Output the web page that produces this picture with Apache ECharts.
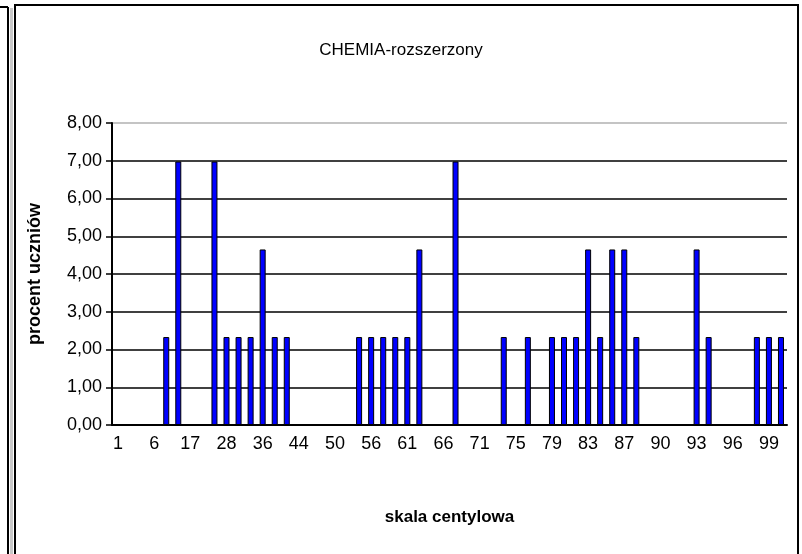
<!DOCTYPE html>
<html>
<head>
<meta charset="utf-8">
<script src="https://cdn.jsdelivr.net/npm/echarts@6/dist/echarts.min.js"></script>
<style>
    html, body { margin: 0; padding: 0; background: #fff; }
    #chart { width: 802px; height: 554px; }
</style>
</head>
<body>
<div id="chart"></div>
<script>
    // percentyle (kategorie osi X) - co trzecia jest podpisana
    const categories = [
        '1', '2', '4', '6', '9', '13', '17', '21', '25', '28',
        '31', '33', '36', '39', '42', '44', '46', '48', '50', '52',
        '54', '56', '57', '59', '61', '63', '64', '66', '68', '70',
        '71', '72', '74', '75', '76', '78', '79', '80', '82', '83',
        '84', '86', '87', '88', '89', '90', '91', '92', '93', '94',
        '95', '96', '97', '98', '99', '100'
    ];
    // procent uczniów
    const values = [
        0, 0, 0, 0, 2.33, 6.98, 0, 0, 6.98, 2.33,
        2.33, 2.33, 4.65, 2.33, 2.33, 0, 0, 0, 0, 0,
        2.33, 2.33, 2.33, 2.33, 2.33, 4.65, 0, 0, 6.98, 0,
        0, 0, 2.33, 0, 2.33, 0, 2.33, 2.33, 2.33, 4.65,
        2.33, 4.65, 4.65, 2.33, 0, 0, 0, 0, 4.65, 2.33,
        0, 0, 0, 2.33, 2.33, 2.33
    ];
    const yTicks = [0, 1, 2, 3, 4, 5, 6, 7, 8];

    const font = '"Liberation Sans", Arial, sans-serif';
    const chart = echarts.init(document.getElementById('chart'));

    chart.setOption({
        backgroundColor: '#FFFFFF',
        animation: false,
        title: {
            text: 'CHEMIA-rozszerzony',
            left: 'center',
            top: 37,
            textStyle: {
                fontFamily: font,
                fontSize: 17,
                fontWeight: 'normal',
                color: '#000'
            }
        },
        grid: {
            left: 112,
            right: 15,
            top: 123,
            bottom: 129
        },
        xAxis: {
            type: 'category',
            data: categories,
            name: 'skala centylowa',
            nameLocation: 'middle',
            nameGap: 84,
            nameTextStyle: {
                fontFamily: font,
                fontSize: 17,
                fontWeight: 'bold',
                color: '#000'
            },
            axisLine: { lineStyle: { color: '#000', width: 2 } },
            axisTick: {
                interval: 0,
                length: 5,
                lineStyle: { color: '#000', width: 1.5 }
            },
            axisLabel: {
                interval: 2,
                margin: 10,
                fontFamily: font,
                fontSize: 18,
                color: '#000'
            },
            splitLine: { show: false }
        },
        yAxis: {
            type: 'value',
            min: yTicks[0],
            max: yTicks[yTicks.length - 1],
            interval: 1,
            name: 'procent uczniów',
            nameLocation: 'middle',
            nameGap: 68,
            nameTextStyle: {
                fontFamily: font,
                fontSize: 18,
                fontWeight: 'bold',
                color: '#000'
            },
            axisLine: { show: true, lineStyle: { color: '#000', width: 2 } },
            axisTick: {
                show: true,
                length: 6,
                lineStyle: { color: '#000', width: 1.5 }
            },
            axisLabel: {
                margin: 10,
                fontFamily: font,
                fontSize: 18,
                color: '#000',
                formatter: v => v.toFixed(2).replace('.', ',')
            },
            splitLine: {
                lineStyle: {
                    // górna linia jest jaśniejsza (ramka obszaru wykresu)
                    color: ['#000', '#000', '#000', '#000', '#000', '#000', '#000', '#000', '#b0b0b0'],
                    width: 1.5
                }
            }
        },
        series: [{
            type: 'bar',
            data: values,
            barWidth: 6,
            itemStyle: {
                color: '#0000FF',
                borderColor: '#000',
                borderWidth: 1
            }
        }],
        graphic: [
            // ramka wykresu
            {
                type: 'rect',
                shape: { x: 15, y: 5, width: 783, height: 560 },
                style: { fill: 'none', stroke: '#000', lineWidth: 2 },
                silent: true
            },
            // pas po lewej stronie
            {
                type: 'rect',
                shape: { x: 10, y: 8, width: 3, height: 560 },
                style: { fill: '#c8c8c8', stroke: 'none' },
                silent: true
            },
            {
                type: 'line',
                shape: { x1: 8, y1: 7, x2: 8, y2: 560 },
                style: { stroke: '#000', lineWidth: 2 },
                silent: true
            },
            {
                type: 'line',
                shape: { x1: 0, y1: 7, x2: 8, y2: 7 },
                style: { stroke: '#000', lineWidth: 2 },
                silent: true
            }
        ]
    });
</script>
</body>
</html>
